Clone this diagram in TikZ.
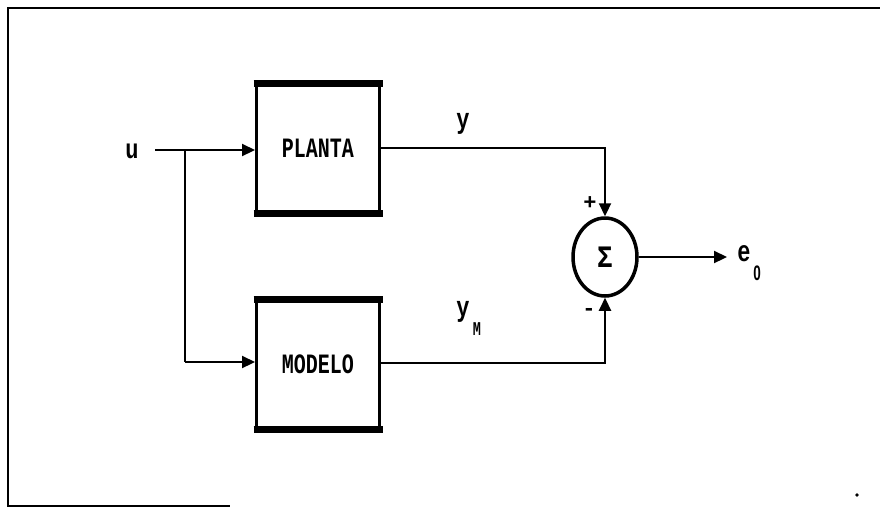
\documentclass[tikz,border=0pt]{standalone}
\usepackage{fontspec}
\setmainfont{Liberation Mono}
\newfontfamily\sansf{Liberation Sans}
\usetikzlibrary{arrows.meta,shapes.geometric}
\begin{document}
\begin{tikzpicture}[x=1pt,y=-1pt,
  blk/.style={draw,line width=3pt,minimum width=123pt,minimum height=127pt,inner sep=0pt,
    font=\fontsize{20}{20}\selectfont\bfseries},
  lbl/.style={font=\fontsize{22}{22}\selectfont\bfseries,inner sep=0pt},
  sml/.style={font=\fontsize{15}{15}\selectfont\bfseries,inner sep=0pt},
  wire/.style={line width=2.2pt},
  arr/.style={wire,-{Triangle[length=13pt,width=12pt]}}]
\useasboundingbox (0,0) rectangle (880,507);
% frame
\draw[line width=2.5pt] (880,8) -- (8,8) -- (8,506) -- (230,506);
% blocks
\node[blk] (P) at (318,148) {\scalebox{1.0}[1.4]{PLANTA}};
\node[blk] (M) at (318,364) {\scalebox{1.0}[1.4]{MODELO}};
\draw[line width=7pt] ([xshift=-1.5pt]P.north west) -- ([xshift=1.5pt]P.north east);
\draw[line width=7pt] ([xshift=-1.5pt]P.south west) -- ([xshift=1.5pt]P.south east);
\draw[line width=7pt] ([xshift=-1.5pt]M.north west) -- ([xshift=1.5pt]M.north east);
\draw[line width=7pt] ([xshift=-1.5pt]M.south west) -- ([xshift=1.5pt]M.south east);
% summing junction
\node[draw,ellipse,line width=3.5pt,minimum width=64pt,minimum height=78pt,inner sep=0pt,
  font=\fontsize{26}{26}\selectfont\bfseries] (S) at (605,257) {\scalebox{1.0}[1.2]{Σ}};
% input
\node[lbl] (u) at (132,151) {\scalebox{1.0}[1.25]{u}};
\coordinate (ustart) at (155,150);
\coordinate (br) at (185,150);
\coordinate (brd) at (185,362);
\draw[arr] (ustart) -- (P.west |- ustart);
\draw[wire] (br) -- (brd);
\draw[arr] (brd) -- (M.west |- brd);
% outputs
\coordinate (py) at (605,148);
\coordinate (my) at (605,363);
\draw[arr] (P.east |- py) -- (py) -- (S.north);
\draw[arr] (M.east |- my) -- (my) -- (S.south);
\coordinate (eo) at (727,257);
\draw[arr] (S.east) -- (eo);
% labels
\node[lbl] (ly) at (463,124) {\scalebox{1.0}[1.3]{y}};
\node[lbl] (lym) at (463,312) {\scalebox{1.0}[1.3]{y}};
\node[sml] (lM) at (477,329) {\scalebox{0.9}[1.3]{M}};
\node[lbl] (le) at (744,254) {\scalebox{1.0}[1.35]{e}};
\node[sml] (l0) at (757,273) {\sansf\scalebox{0.9}[1.4]{0}};
\node[lbl] (plus) at (590,203) {+};
\node[lbl] (minus) at (589,312) {-};
\fill (857,495) circle (1.8pt);
\end{tikzpicture}
\end{document}
